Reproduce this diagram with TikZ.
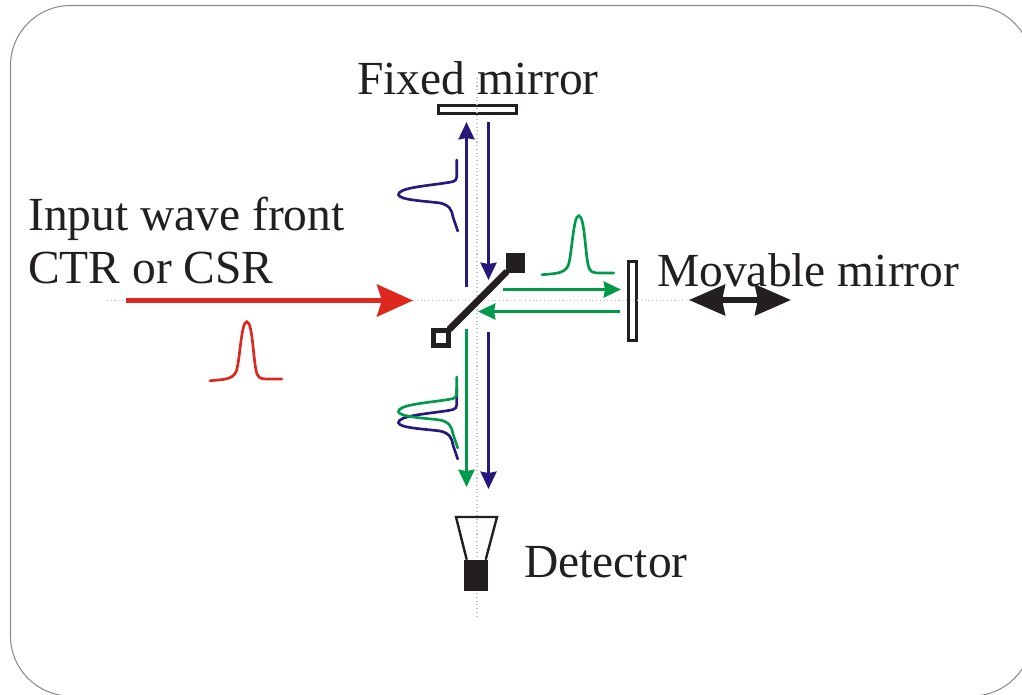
\documentclass[tikz,border=0pt]{standalone}
\usepackage{fontspec}
\setmainfont{Liberation Serif}
\usetikzlibrary{arrows.meta}
\definecolor{beamblue}{HTML}{251A7B}
\definecolor{beamgreen}{HTML}{009A4A}
\definecolor{beamred}{HTML}{DC281E}
\definecolor{inkblack}{HTML}{231F20}
\newcommand{\sidepulse}{(456.7,377) -- (456.7,394) .. controls (456.7,399) and (451,399) .. (445,400) .. controls (425,403) and (398,405) .. (398.5,411.7) .. controls (399,417) and (425,418) .. (440,420) .. controls (450,422) and (452,428) .. (453,434) -- (457.7,448)}
\newcommand{\uppulse}{(210,380.7) .. controls (222,379.5) and (232,380) .. (236,372) .. controls (240,362) and (241,322) .. (246.7,321.7) .. controls (253,322) and (253,362) .. (257,374) .. controls (259,380) and (264,379) .. (281.7,379)}
\tikzset{
	label/.style={anchor=base west, inner sep=0pt, text=inkblack, font=\fontsize{35.6}{40}\selectfont},
	mirror/.style={draw=inkblack, fill=white, line width=2.2pt, inner sep=0pt, rectangle},
	guide/.style={color=black!25, line width=0.8pt, dotted},
	pulse/.style={line width=2pt, line cap=round},
	bluebeam/.style={color=beamblue, line width=2.25pt, -{Stealth[length=13pt,width=12pt,inset=1pt]}},
	greenbeam/.style={color=beamgreen, line width=2.25pt, -{Stealth[length=13pt,width=12pt,inset=1pt]}}
}
\begin{document}
\begin{tikzpicture}[x=0.75pt, y=-0.75pt]
	\useasboundingbox (0,0) rectangle (1022,694);
	\clip (0,0) rectangle (1022,694);
	\draw[color=black!45, line width=0.8pt, rounded corners=45pt] (10.5,5.5) rectangle (1032,696);
	\node[label] (fixedlabel) at (357,94) {Fixed mirror};
	\node[label] (inputlabel) at (28,230) {Input wave front};
	\node[label] (sourcelabel) at (28,283) {CTR or CSR};
	\node[label] (movablelabel) at (657,286) {Movable mirror};
	\node[label] (detectorlabel) at (524,577) {Detector};
	\node[mirror, minimum width=59pt, minimum height=5.8pt] (fixedmirror) at (477.5,109.5) {};
	\node[mirror, minimum width=5.8pt, minimum height=59pt] (movablemirror) at (632.5,301) {};
	\coordinate (hleft) at (107,300.5);
	\coordinate (hright) at (690,300.5);
	\coordinate (vtop) at (477,78);
	\coordinate (vbottom) at (477,618);
	\draw[guide] (hleft) -- (hright);
	\draw[guide] (vtop) -- (vbottom);
	\node[fill=inkblack, inner sep=0pt, minimum size=14.6pt] (splitend) at (515.5,263) {};
	\node[draw=inkblack, fill=white, line width=3.75pt, inner sep=0pt, minimum size=11.25pt] (splitstart) at (440.6,338) {};
	\draw[color=inkblack, line width=5pt, shorten <=-1.5pt, shorten >=-1.5pt] (splitstart) -- (splitend);
	\coordinate (redstart) at (126,300.5);
	\coordinate (redtip) at (413,300.5);
	\draw[color=beamred, line width=3.8pt, -{Stealth[length=27pt,width=24pt,inset=3.7pt]}] (redstart) -- (redtip);
	\coordinate (upstart) at (466.5,287);
	\coordinate (uptip) at (466.5,122);
	\draw[bluebeam] (upstart) -- (uptip);
	\coordinate (downstart) at (488.5,122);
	\coordinate (downtip) at (488.5,280);
	\draw[bluebeam] (downstart) -- (downtip);
	\coordinate (outstart) at (503,289.5);
	\coordinate (outtip) at (621,289.5);
	\draw[greenbeam] (outstart) -- (outtip);
	\coordinate (backstart) at (620,311.5);
	\coordinate (backtip) at (478,311.5);
	\draw[greenbeam] (backstart) -- (backtip);
	\coordinate (greenstart) at (466.5,329);
	\coordinate (greentip) at (466.5,487);
	\draw[greenbeam] (greenstart) -- (greentip);
	\coordinate (bluestart) at (488.5,332);
	\coordinate (bluetip) at (488.5,489);
	\draw[bluebeam] (bluestart) -- (bluetip);
	\coordinate (stageleft) at (689,300);
	\coordinate (stageright) at (791,300);
	\draw[color=inkblack, line width=3.8pt, {Stealth[length=27pt,width=23pt,inset=2.2pt]}-{Stealth[length=27pt,width=23pt,inset=2.2pt]}] (stageleft) -- (stageright);
	\draw[pulse, color=beamred] \uppulse;
	\draw[pulse, color=beamgreen, shift={(332,-106)}] \uppulse;
	\draw[pulse, color=beamblue, shift={(0,-217)}] \sidepulse;
	\draw[pulse, color=beamblue, shift={(0,11)}] \sidepulse;
	\draw[pulse, color=beamgreen] \sidepulse;
	\node[fill=inkblack, inner sep=0pt, minimum width=18.2pt, minimum height=23pt] (detector) at (476.2,575.3) {};
	\coordinate (hornleft) at (456,517);
	\coordinate (hornright) at (497,517);
	\draw[color=inkblack, line width=1.8pt] ([xshift=2.2pt]detector.north west) -- (hornleft) -- (hornright) -- ([xshift=-2.2pt]detector.north east);
\end{tikzpicture}
\end{document}
